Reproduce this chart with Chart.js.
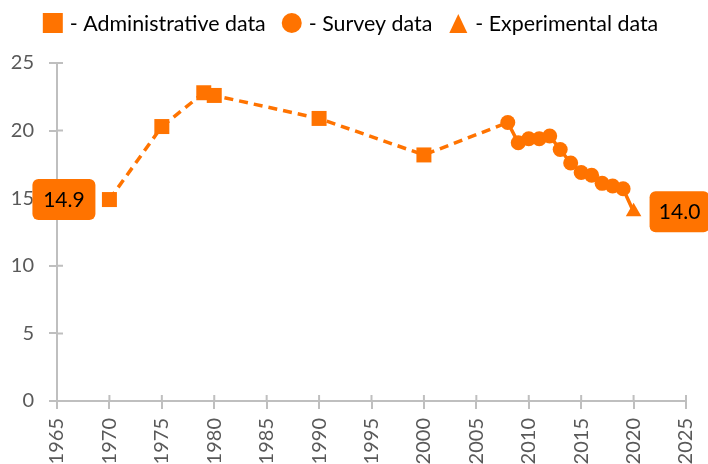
<!DOCTYPE html>
<html>
<head>
<meta charset="utf-8">
<script src="https://cdn.jsdelivr.net/npm/chart.js@4"></script>
<style>
  html, body { margin: 0; padding: 0; background: #fff; overflow: hidden; }
  #wrap { width: 708px; height: 464px; }
</style>
</head>
<body>
<div id="wrap"><canvas id="chart"></canvas></div>
<script>
const adminYears = [1970, 1975, 1979, 1980, 1990, 2000];
const adminValues = [14.9, 20.3, 22.8, 22.6, 20.9, 18.2];
const surveyYears = [2008, 2009, 2010, 2011, 2012, 2013, 2014, 2015, 2016, 2017, 2018, 2019];
const surveyValues = [20.6, 19.1, 19.4, 19.4, 19.6, 18.6, 17.6, 16.9, 16.7, 16.1, 15.9, 15.7];
const expYears = [2020];
const expValues = [14.0];
const xTicks = [1965, 1970, 1975, 1980, 1985, 1990, 1995, 2000, 2005, 2010, 2015, 2020, 2025];
const yTicks = [0, 5, 10, 15, 20, 25];
const legendLabels = ["- Administrative data", "- Survey data", "- Experimental data"];

const orange = "#ff7300";
const axisGrey = "#bfbfbf";
const font = "Lato";

function toPoints(xs, ys) {
  return xs.map((x, i) => ({ x: x, y: ys[i] }));
}

const allPoints = toPoints(adminYears, adminValues)
  .concat(toPoints(surveyYears, surveyValues))
  .concat(toPoints(expYears, expValues));

// legend drawn by hand so the marker shapes match
const topLegend = {
  id: "topLegend",
  afterDraw(chart) {
    const ctx = chart.ctx;
    const shapes = ["rect", "circle", "triangle"];
    ctx.save();
    ctx.font = "21.4px " + font;
    ctx.textBaseline = "middle";
    const widths = legendLabels.map(t => ctx.measureText(t).width);
    const marker = 20, gapText = 7, gapItem = 16;
    let total = 0;
    widths.forEach(w => total += marker + gapText + w);
    total += gapItem * (widths.length - 1);
    let x = 350.5 - total / 2;
    const cy = 23;
    legendLabels.forEach((label, i) => {
      ctx.fillStyle = orange;
      ctx.beginPath();
      if (shapes[i] === "rect") {
        ctx.rect(x, cy - 10, 20, 20);
      } else if (shapes[i] === "circle") {
        ctx.arc(x + 10, cy, 10, 0, Math.PI * 2);
      } else {
        ctx.moveTo(x + 10, cy - 9);
        ctx.lineTo(x + 19, cy + 10);
        ctx.lineTo(x + 1, cy + 10);
        ctx.closePath();
      }
      ctx.fill();
      ctx.fillStyle = "#000";
      ctx.fillText(label, x + marker + gapText, cy + 1);
      x += marker + gapText + widths[i] + gapItem;
    });
    ctx.restore();
  }
};

// tick marks cross the axis, so add the inner half
const innerTicks = {
  id: "innerTicks",
  afterDraw(chart) {
    const ctx = chart.ctx;
    const xs = chart.scales.x, ys = chart.scales.y;
    const area = chart.chartArea;
    ctx.save();
    ctx.strokeStyle = axisGrey;
    ctx.lineWidth = 2;
    ctx.beginPath();
    xTicks.forEach(v => {
      const px = xs.getPixelForValue(v);
      ctx.moveTo(px, area.bottom);
      ctx.lineTo(px, area.bottom - 6);
    });
    yTicks.forEach(v => {
      const py = ys.getPixelForValue(v);
      ctx.moveTo(area.left, py);
      ctx.lineTo(area.left + 6, py);
    });
    ctx.stroke();
    ctx.restore();
  }
};

function valueBox(ctx, left, cy, w, text) {
  const h = 41, r = 6;
  ctx.fillStyle = orange;
  ctx.beginPath();
  ctx.roundRect(left, cy - h / 2, w, h, r);
  ctx.fill();
  ctx.fillStyle = "#000";
  ctx.font = "21px " + font;
  ctx.textAlign = "center";
  ctx.textBaseline = "middle";
  ctx.fillText(text, left + w / 2, cy + 1);
}

const endLabels = {
  id: "endLabels",
  afterDraw(chart) {
    const ctx = chart.ctx;
    const first = chart.getDatasetMeta(1).data[0];
    const last = chart.getDatasetMeta(3).data[0];
    ctx.save();
    valueBox(ctx, first.x - 14 - 63, first.y, 63, adminValues[0].toFixed(1));
    valueBox(ctx, last.x + 16, last.y, 60, expValues[expValues.length - 1].toFixed(1));
    ctx.restore();
  }
};

const ctx = document.getElementById("chart").getContext("2d");

new Chart(ctx, {
  type: "line",
  data: {
    datasets: [
      {
        label: "trend",
        data: allPoints,
        borderColor: orange,
        borderWidth: 3.5,
        pointRadius: 0,
        tension: 0,
        order: 2,
        segment: {
          borderDash: c => c.p1.parsed.x <= surveyYears[0] ? [9, 6] : undefined
        }
      },
      {
        label: "Administrative data",
        data: toPoints(adminYears, adminValues),
        showLine: false,
        pointStyle: "rect",
        pointRadius: 10.6,
        backgroundColor: orange,
        borderWidth: 0,
        order: 1
      },
      {
        label: "Survey data",
        data: toPoints(surveyYears, surveyValues),
        showLine: false,
        pointStyle: "circle",
        pointRadius: 7.5,
        backgroundColor: orange,
        borderWidth: 0,
        order: 1
      },
      {
        label: "Experimental data",
        data: toPoints(expYears, expValues),
        showLine: false,
        pointStyle: "triangle",
        pointRadius: 9,
        backgroundColor: orange,
        borderWidth: 0,
        order: 1
      }
    ]
  },
  options: {
    responsive: true,
    maintainAspectRatio: false,
    animation: false,
    layout: { padding: { top: 63, right: 22, left: 0, bottom: 0 } },
    plugins: {
      legend: { display: false },
      tooltip: { enabled: false }
    },
    scales: {
      x: {
        type: "linear",
        min: 1965,
        max: 2025,
        afterFit: s => {
          s.height = 63;
          s.paddingLeft = 0;
          s.paddingRight = 0;
        },
        afterBuildTicks: s => { s.ticks = xTicks.map(v => ({ value: v })); },
        grid: { drawOnChartArea: false, tickLength: 8, color: axisGrey, lineWidth: 2 },
        border: { color: axisGrey, width: 2 },
        ticks: {
          autoSkip: false,
          minRotation: 90,
          maxRotation: 90,
          padding: 9,
          color: "#595959",
          font: { family: font, size: 20 },
          callback: v => String(v)
        }
      },
      y: {
        min: 0,
        max: 25,
        afterFit: s => { s.width = 57; },
        afterBuildTicks: s => { s.ticks = yTicks.map(v => ({ value: v })); },
        grid: { drawOnChartArea: false, tickLength: 8, color: axisGrey, lineWidth: 2 },
        border: { color: axisGrey, width: 2 },
        ticks: {
          padding: 15,
          color: "#595959",
          font: { family: font, size: 20 },
          callback: v => String(v)
        }
      }
    }
  },
  plugins: [topLegend, innerTicks, endLabels]
});
</script>
</body>
</html>
